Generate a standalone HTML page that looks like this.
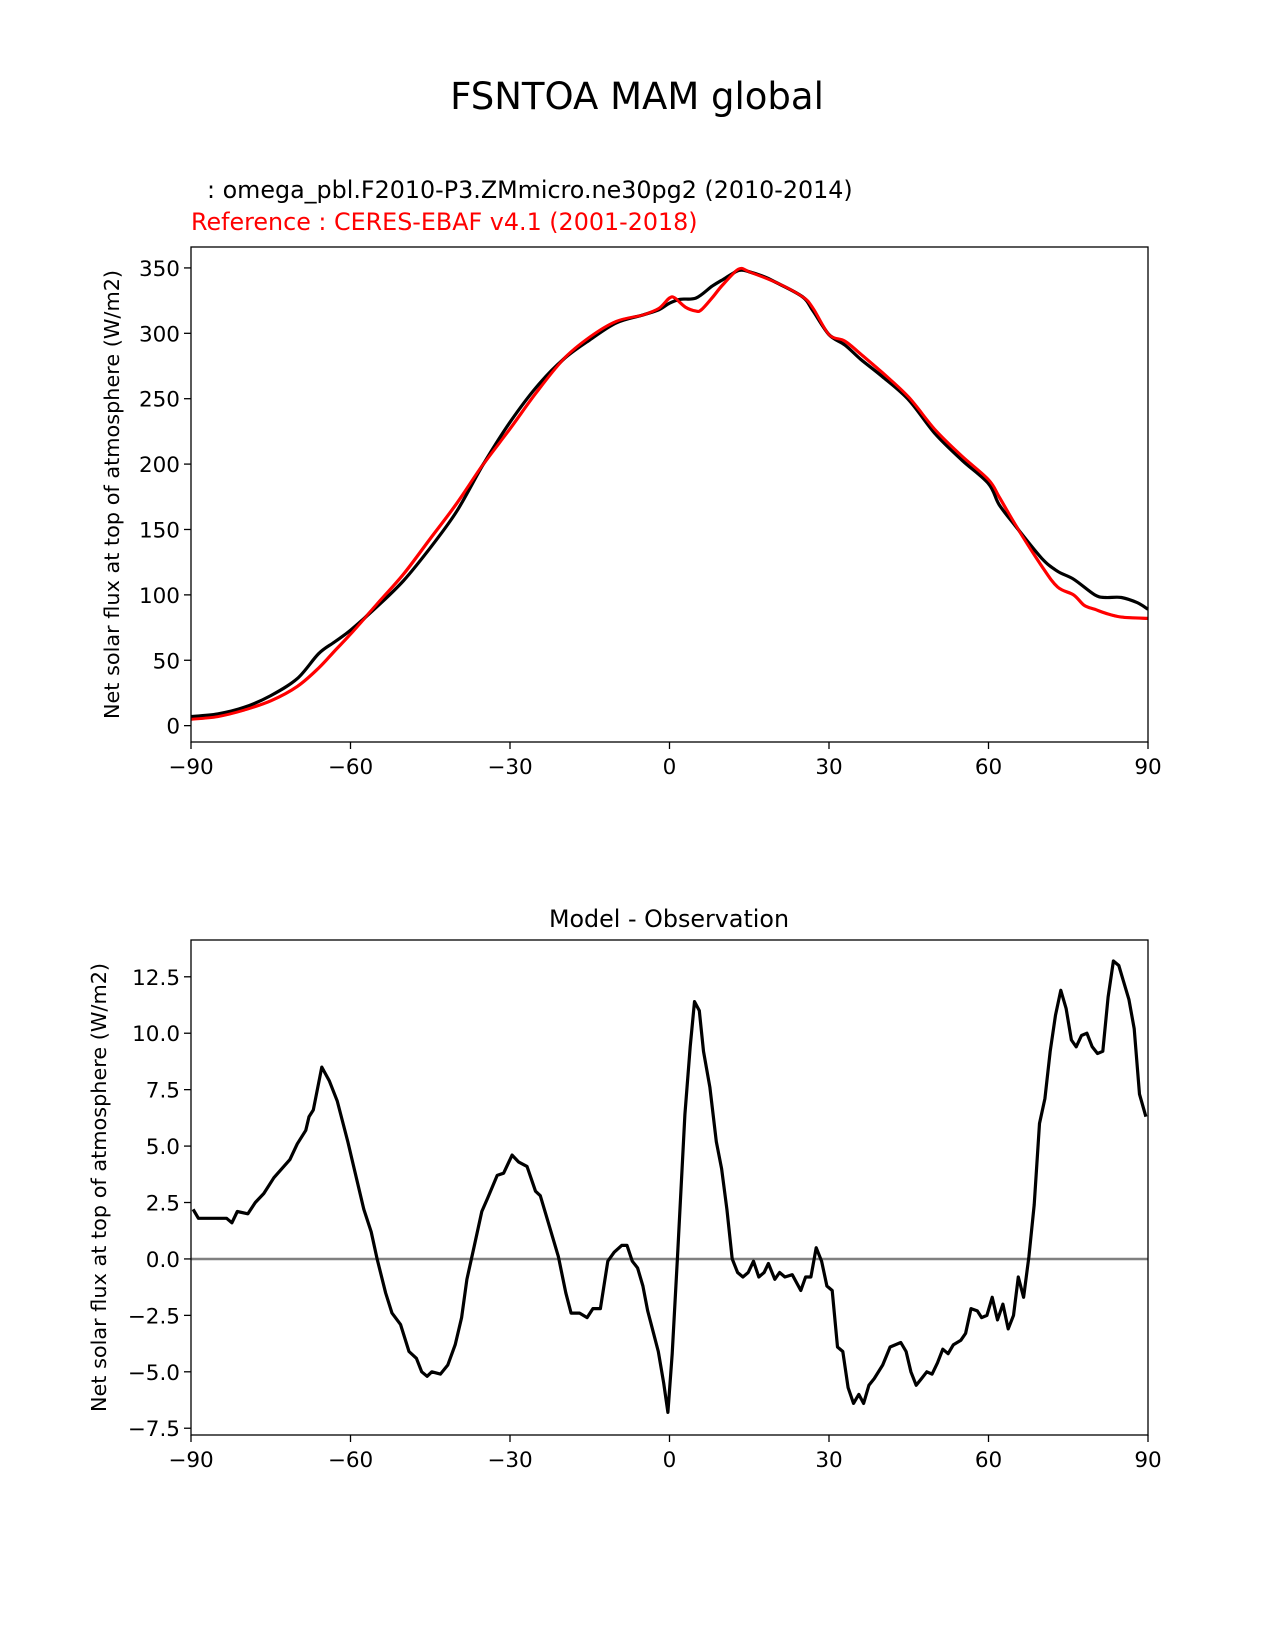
<!DOCTYPE html>
<html><head><meta charset="utf-8"><style>
body{margin:0;background:#fff}
svg{display:block;font-family:"DejaVu Sans","Liberation Sans",sans-serif}
</style></head><body>
<svg id="fig" width="1275" height="1650" viewBox="0 0 1275 1650" xmlns="http://www.w3.org/2000/svg">
<text x="637" y="109" font-size="37" text-anchor="middle">FSNTOA MAM global</text>
<text x="207" y="198" font-size="23.8">  : omega_pbl.F2010-P3.ZMmicro.ne30pg2 (2010-2014)</text>
<text x="191" y="230" font-size="23.8" fill="#ff0000">Reference : CERES-EBAF v4.1 (2001-2018)</text>
<text x="669" y="927" font-size="23.8" text-anchor="middle">Model - Observation</text>
<g id="top"></g><g id="bot"></g>
</svg>
<script>
const latModel=[-90,-85,-80,-75,-70,-66,-63,-60,-55,-50,-45,-40,-35,-30,-25,-20,-15,-10,-5,-2,0,2,5,8,10,13,15,18,20,25,27,30,33,36,40,45,50,55,60,62,65,70,73,76,80,82,85,88,90];
const valModel=[7,9,14,23,36,55,64,73,91,111,136,164,200,232,259,280,295,308,314,318,323,326,327,336,341,348,347,343,339,328,317,299,291,280,267,249,223,203,185,169,153,128,118,112,100,98,98,94,89];
const latObs=[-90,-85,-80,-75,-70,-66,-63,-60,-55,-50,-45,-40,-35,-30,-25,-20,-15,-10,-5,-2,0,1,3,5,6,8,10,13,15,20,25,27,30,33,36,40,45,50,55,60,62,65,70,73,76,78,80,82,85,90];
const valObs=[5,7,12,19,30,44,57,70,93,116,143,170,200,227,255,280,297,309,314,319,327,327,320,317,318,327,337,349,347,339,328,319,299,294,284,270,251,226,206,188,175,154,122,106,100,92,89,86,83,82];
const latDiff=[-89.6,-88.6,-86.2,-85.2,-83.3,-82.3,-81.3,-79.3,-77.9,-76.3,-74.4,-71.4,-70,-68.4,-67.8,-67,-65.4,-64,-62.5,-60.5,-59.3,-57.5,-56.1,-55,-53.4,-52.2,-50.6,-49,-47.6,-46.6,-45.6,-44.7,-43.1,-41.7,-40.3,-39.1,-38.1,-36.7,-35.3,-34.2,-32.4,-31.2,-29.6,-28.4,-26.8,-25.2,-24.3,-22.9,-20.9,-19.5,-18.5,-16.9,-15.5,-14.4,-13,-11.6,-10.4,-9,-8,-7,-6,-5,-4.1,-3.1,-2.1,-1.1,-0.3,0.5,1.5,2.9,3.9,4.7,5.6,6.4,7.6,8.8,9.8,10.8,11.8,12.8,13.8,14.8,15.8,16.8,17.8,18.6,19.8,20.7,21.7,23.1,24.7,25.6,26.6,27.6,28.6,29.6,30.6,31.6,32.6,33.6,34.6,35.6,36.5,37.5,38.5,40.1,41.5,43.5,44.5,45.4,46.4,47.4,48.4,49.4,50.4,51.4,52.4,53.4,54.8,55.7,56.7,57.9,58.7,59.7,60.7,61.7,62.7,63.7,64.7,65.6,66.6,67.6,68.6,69.6,70.6,71.6,72.6,73.6,74.6,75.6,76.5,77.5,78.5,79.5,80.5,81.5,82.5,83.5,84.5,85.4,86.4,87.4,88.4,89.6];
const valDiff=[2.2,1.8,1.8,1.8,1.8,1.6,2.1,2.0,2.5,2.9,3.6,4.4,5.1,5.7,6.3,6.6,8.5,7.9,7.0,5.2,4.0,2.2,1.2,0,-1.5,-2.4,-2.9,-4.1,-4.4,-5.0,-5.2,-5.0,-5.1,-4.7,-3.8,-2.6,-0.9,0.6,2.1,2.7,3.7,3.8,4.6,4.3,4.1,3.0,2.8,1.7,0.1,-1.5,-2.4,-2.4,-2.6,-2.2,-2.2,-0.1,0.3,0.6,0.6,-0.1,-0.4,-1.2,-2.3,-3.2,-4.1,-5.5,-6.8,-4.2,0.1,6.4,9.4,11.4,11.0,9.2,7.6,5.2,4.0,2.2,0,-0.6,-0.8,-0.6,-0.1,-0.8,-0.6,-0.2,-0.9,-0.6,-0.8,-0.7,-1.4,-0.8,-0.8,0.5,-0.1,-1.2,-1.4,-3.9,-4.1,-5.7,-6.4,-6.0,-6.4,-5.6,-5.3,-4.7,-3.9,-3.7,-4.1,-5.0,-5.6,-5.3,-5.0,-5.1,-4.6,-4.0,-4.2,-3.8,-3.6,-3.3,-2.2,-2.3,-2.6,-2.5,-1.7,-2.7,-2.0,-3.1,-2.5,-0.8,-1.7,0.1,2.4,6.0,7.1,9.2,10.8,11.9,11.1,9.7,9.4,9.9,10.0,9.4,9.1,9.2,11.6,13.2,13.0,12.3,11.5,10.2,7.3,6.3];
const xTicks=[-90,-60,-30,0,30,60,90];
const yTicksTop=[0,50,100,150,200,250,300,350];
const yTicksBot=[-7.5,-5,-2.5,0,2.5,5,7.5,10,12.5];
const NS='http://www.w3.org/2000/svg';
function mk(g,tag,attrs,txt){const e=document.createElementNS(NS,tag);for(const k in attrs)e.setAttribute(k,attrs[k]);if(txt!==undefined)e.textContent=txt;g.appendChild(e);return e;}
const L=191,R=1148;
const xs=v=>L+(v+90)/180*(R-L);
function smooth(xa,ya,ys){
  const P=xa.map((x,i)=>[xs(x),ys(ya[i])]);
  let d='M'+P[0][0].toFixed(1)+','+P[0][1].toFixed(1);
  for(let i=0;i<P.length-1;i++){
    const p0=P[Math.max(0,i-1)],p1=P[i],p2=P[i+1],p3=P[Math.min(P.length-1,i+2)];
    const c1=[p1[0]+(p2[0]-p0[0])/6,p1[1]+(p2[1]-p0[1])/6];
    const c2=[p2[0]-(p3[0]-p1[0])/6,p2[1]-(p3[1]-p1[1])/6];
    d+='C'+c1.map(v=>v.toFixed(1)).join(',')+' '+c2.map(v=>v.toFixed(1)).join(',')+' '+p2.map(v=>v.toFixed(1)).join(',');
  }
  return d;
}
function axes(g,T,B,ymin,ymax,yt,fmt,ylabelX,nm){
  const ys=v=>B-(v-ymin)/(ymax-ymin)*(B-T);
  xTicks.forEach(t=>{
    const l=mk(g,'line',{x1:xs(t),x2:xs(t),y1:B,y2:B+7,stroke:'#000','stroke-width':1.3});
    
    
    const tx=mk(g,'text',{x:xs(t),y:B+32,'font-size':21.5,'text-anchor':'middle'},(t<0?'\u2212'+(-t):t));
    
    
  });
  yt.forEach(t=>{
    const l=mk(g,'line',{x1:L-7,x2:L,y1:ys(t),y2:ys(t),stroke:'#000','stroke-width':1.3});
    
    
    const s=fmt(t);
    const tx=mk(g,'text',{x:L-11,y:ys(t)+8,'font-size':21.5,'text-anchor':'end'},s.replace('-','\u2212'));
    
    
  });
  const yl=mk(g,'text',{x:ylabelX,y:(T+B)/2,'font-size':20.8,'text-anchor':'middle',transform:`rotate(-90 ${ylabelX} ${(T+B)/2})`},'Net solar flux at top of atmosphere (W/m2)');
  
  
  return ys;
}
function line(g,xa,ya,ys,col,nm,w,sm){
  const d=sm?smooth(xa,ya,ys):xa.map((x,i)=>(i?'L':'M')+xs(x).toFixed(1)+','+ys(ya[i]).toFixed(1)).join('');
  const p=mk(g,'path',{d:d,fill:'none',stroke:col,'stroke-width':w||3.2,'stroke-linejoin':'round'});
  
  
}
function frame(g,T,B,nm){
  const r=mk(g,'rect',{x:L,y:T,width:R-L,height:B-T,fill:'none',stroke:'#000','stroke-width':1.3});
  
  
}
const gt=document.getElementById('top');


const ysT=axes(gt,247,742,-12.5,366,yTicksTop,t=>String(t),119,'top');
line(gt,latObs,valObs,ysT,'#ff0000','observation-line',3.2,true);
line(gt,latModel,valModel,ysT,'#000','model-line',3.2,true);
line(gt,latObs,valObs,ysT,'#ff0000','observation-line-overlay',2.6,true);
frame(gt,247,742,'top');
const gb=document.getElementById('bot');


const ysB=axes(gb,940,1435,-7.8,14.13,yTicksBot,t=>t.toFixed(1),106,'diff');
const z=mk(gb,'line',{x1:L,x2:R,y1:ysB(0),y2:ysB(0),stroke:'#808080','stroke-width':2.5});


line(gb,latDiff,valDiff,ysB,'#000','difference-line');
frame(gb,940,1435,'diff');
</script>
</body></html>
